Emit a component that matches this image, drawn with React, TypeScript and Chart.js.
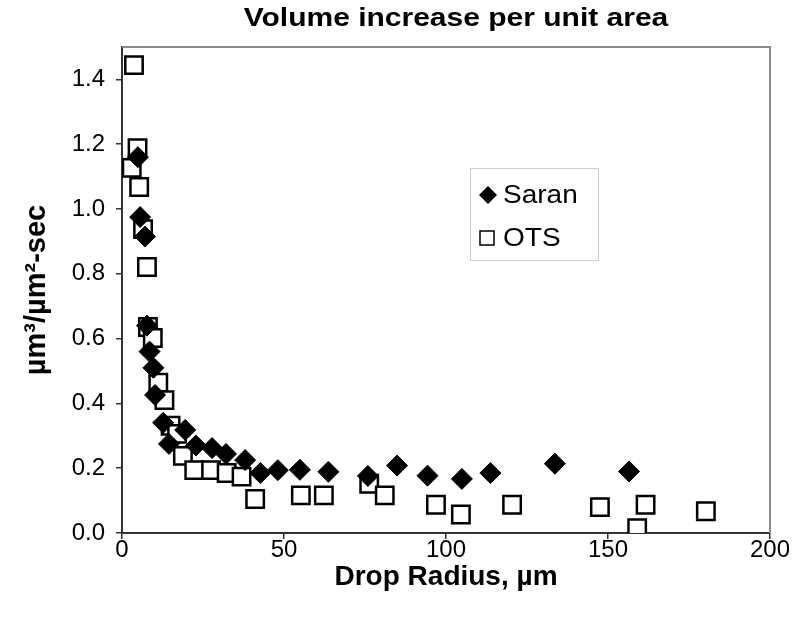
import { useEffect, useRef } from "react";
import { Chart, registerables } from "chart.js";

Chart.register(...registerables);

const FONT = "'Liberation Sans', Arial, Helvetica, sans-serif";

const chartTitle = "Volume increase per unit area";
const xTitle = "Drop Radius, µm";
const yTitle = "µm³/µm²-sec";
const seriesNames = ["Saran", "OTS"];

const xTickValues = [0, 50, 100, 150, 200];
const yTickValues = [0, 0.2, 0.4, 0.6, 0.8, 1.0, 1.2, 1.4];

const saranX = [4.9, 5.6, 7.1, 7.7, 8.5, 9.7, 10.2, 12.7, 14.5, 19.5, 22.8, 27.8, 32.1, 38.0, 42.7, 48.1, 54.9, 63.7, 75.9, 84.9, 94.3, 104.9, 113.7, 133.6, 156.5];
const saranY = [1.16, 0.975, 0.915, 0.64, 0.56, 0.51, 0.426, 0.34, 0.275, 0.318, 0.27, 0.262, 0.244, 0.225, 0.185, 0.194, 0.195, 0.189, 0.176, 0.208, 0.177, 0.167, 0.185, 0.214, 0.19];

const otsX = [3.7, 4.8, 3.0, 5.3, 6.5, 7.7, 8.0, 9.5, 11.2, 13.1, 15.0, 17.0, 18.8, 22.3, 27.5, 32.3, 36.9, 41.1, 55.2, 62.3, 76.3, 81.1, 96.9, 104.6, 120.4, 147.5, 159.0, 161.6, 180.2];
const otsY = [1.444, 1.188, 1.127, 1.068, 0.938, 0.821, 0.636, 0.602, 0.464, 0.41, 0.331, 0.306, 0.238, 0.194, 0.194, 0.185, 0.174, 0.105, 0.116, 0.116, 0.152, 0.116, 0.087, 0.057, 0.087, 0.08, 0.015, 0.087, 0.067];

export default function App() {
  const ref = useRef<HTMLCanvasElement>(null);

  useEffect(() => {
    if (!ref.current) return;

    const decor = {
      id: "decor",
      afterDraw(chart: any) {
        const { ctx, chartArea } = chart;
        const { left, right, top, bottom } = chartArea;
        ctx.save();
        // top and right frame
        ctx.strokeStyle = "#8a8a8a";
        ctx.lineWidth = 2;
        ctx.beginPath();
        ctx.moveTo(left, top);
        ctx.lineTo(right, top);
        ctx.lineTo(right, bottom);
        ctx.stroke();

        // title (stretched horizontally like the reference)
        ctx.fillStyle = "#000";
        ctx.font = `bold 25px ${FONT}`;
        ctx.textAlign = "center";
        ctx.textBaseline = "middle";
        ctx.save();
        ctx.translate(456, 19);
        ctx.scale(1.2, 1);
        ctx.fillText(chartTitle, 0, 0);
        ctx.restore();

        // legend box
        const lx = 470, ly = 168, lw = 128, lh = 92;
        ctx.strokeStyle = "#d0d0d0";
        ctx.lineWidth = 1;
        ctx.strokeRect(lx + 0.5, ly + 0.5, lw, lh);

        // Saran marker (diamond)
        const dx = 488, dy = 195, dr = 9;
        ctx.fillStyle = "#000";
        ctx.beginPath();
        ctx.moveTo(dx, dy - dr);
        ctx.lineTo(dx + dr, dy);
        ctx.lineTo(dx, dy + dr);
        ctx.lineTo(dx - dr, dy);
        ctx.closePath();
        ctx.fill();

        // OTS marker (square)
        const sx = 487, sy = 238, sh = 7;
        ctx.fillStyle = "#fff";
        ctx.strokeStyle = "#000";
        ctx.lineWidth = 1.5;
        ctx.fillRect(sx - sh, sy - sh, 2 * sh, 2 * sh);
        ctx.strokeRect(sx - sh, sy - sh, 2 * sh, 2 * sh);

        ctx.fillStyle = "#000";
        ctx.font = `25px ${FONT}`;
        ctx.textAlign = "left";
        ctx.textBaseline = "middle";
        ctx.save();
        ctx.translate(503, 196);
        ctx.scale(1.12, 1);
        ctx.fillText(seriesNames[0], 0, 0);
        ctx.restore();
        ctx.save();
        ctx.translate(503, 239);
        ctx.scale(1.12, 1);
        ctx.fillText(seriesNames[1], 0, 0);
        ctx.restore();
        ctx.restore();
      },
    };

    const chart = new Chart(ref.current, {
      type: "scatter",
      data: {
        datasets: [
          {
            label: seriesNames[0],
            data: saranX.map((x, i) => ({ x, y: saranY[i] })),
            pointStyle: "rectRot",
            pointRadius: 10.5,
            pointHoverRadius: 10.5,
            backgroundColor: "#000",
            borderColor: "#000",
            borderWidth: 1,
          },
          {
            label: seriesNames[1],
            data: otsX.map((x, i) => ({ x, y: otsY[i] })),
            pointStyle: "rect",
            pointRadius: 12.3,
            pointHoverRadius: 12.3,
            backgroundColor: "#fff",
            borderColor: "#000",
            borderWidth: 2.5,
          },
        ],
      },
      options: {
        animation: false,
        responsive: false,
        devicePixelRatio: 1,
        layout: { padding: { top: 47, right: 24, left: 0, bottom: 0 } },
        plugins: {
          legend: { display: false },
          title: { display: false },
          tooltip: { enabled: false },
        },
        scales: {
          x: {
            type: "linear",
            min: 0,
            max: 200,
            afterBuildTicks: (s: any) => {
              s.ticks = xTickValues.map((v) => ({ value: v }));
            },
            afterFit: (s: any) => {
              s.height = 94;
            },
            grid: { drawOnChartArea: false, drawTicks: true, tickLength: 6, color: "#333", lineWidth: 1.5 },
            border: { display: true, color: "#333", width: 2 },
            ticks: {
              color: "#000",
              font: { size: 24, family: FONT },
              padding: -3,
              maxRotation: 0,
              autoSkip: false,
            },
            title: {
              display: true,
              text: xTitle,
              color: "#000",
              font: { size: 28, weight: "bold", family: FONT },
              padding: { top: 0, bottom: 33 },
            },
          },
          y: {
            type: "linear",
            min: 0,
            max: 1.5,
            afterBuildTicks: (s: any) => {
              s.ticks = yTickValues.map((v) => ({ value: v }));
            },
            afterFit: (s: any) => {
              s.width = 122;
            },
            grid: { drawOnChartArea: false, drawTicks: true, tickLength: 6, color: "#333", lineWidth: 1.5 },
            border: { display: true, color: "#333", width: 2 },
            ticks: {
              color: "#000",
              font: { size: 24, family: FONT },
              padding: 11,
              autoSkip: false,
              callback: (v: any) => Number(v).toFixed(1),
            },
            title: {
              display: true,
              text: yTitle,
              color: "#000",
              font: { size: 29, weight: "bold", family: FONT },
              padding: { top: 20, bottom: 0 },
            },
          },
        },
      },
      plugins: [decor],
    });

    return () => chart.destroy();
  }, []);

  return (
    <div style={{ position: "fixed", left: 0, top: 0, width: 794, height: 627, background: "#fff" }}>
      <canvas ref={ref} width={794} height={627} style={{ display: "block" }} />
    </div>
  );
}
